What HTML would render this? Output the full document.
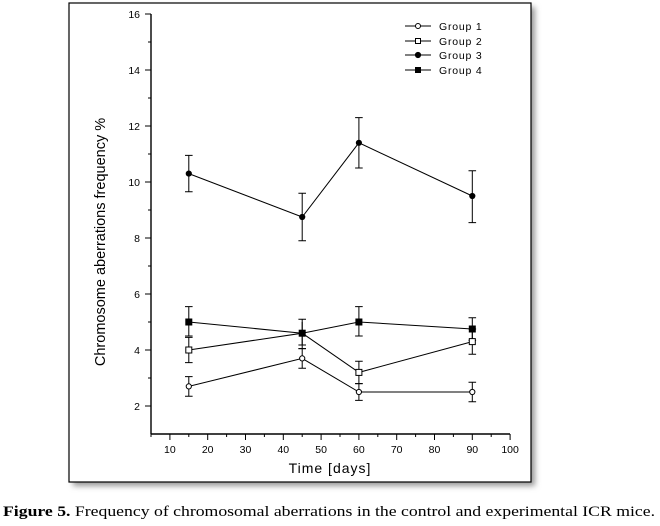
<!DOCTYPE html>
<html><head><meta charset="utf-8"><style>body{margin:0;background:#fff}svg{display:block}</style></head><body>
<svg width="660" height="526" viewBox="0 0 660 526" xmlns="http://www.w3.org/2000/svg">
<defs><filter id="sh" x="-5%" y="-5%" width="115%" height="115%"><feGaussianBlur stdDeviation="3"/></filter></defs>
<rect x="73" y="7" width="462" height="479" fill="#999" filter="url(#sh)"/>
<rect x="69" y="3" width="462" height="479" fill="#fff" stroke="#000" stroke-width="1.2"/>
<g stroke="#000" stroke-width="1" fill="none">
<line x1="151" y1="14" x2="151" y2="434" stroke-width="1.4"/>
<line x1="151" y1="434" x2="510" y2="434" stroke-width="1.4"/>
<path d="M145 14H151M145 70H151M145 126H151M145 182H151M145 238H151M145 294H151M145 350H151M145 406H151"/>
<path d="M148 42H151M148 98H151M148 154H151M148 210H151M148 266H151M148 322H151M148 378H151"/>
<path d="M169.9 434V440M207.7 434V440M245.5 434V440M283.3 434V440M321.1 434V440M358.9 434V440M396.7 434V440M434.5 434V440M472.3 434V440M510.1 434V440"/>
<path d="M151 434V437M188.8 434V437M226.6 434V437M264.4 434V437M302.2 434V437M340 434V437M377.8 434V437M415.6 434V437M453.4 434V437M491.2 434V437"/>
</g>
<g font-family="Liberation Sans, sans-serif" font-size="10.5" text-anchor="end" fill="#000">
<text x="140" y="18">16</text><text x="140" y="74">14</text><text x="140" y="130">12</text><text x="140" y="186">10</text><text x="140" y="242">8</text><text x="140" y="298">6</text><text x="140" y="354">4</text><text x="140" y="410">2</text>
</g>
<g font-family="Liberation Sans, sans-serif" font-size="10.5" text-anchor="middle" fill="#000">
<text x="169.9" y="453">10</text><text x="207.7" y="453">20</text><text x="245.5" y="453">30</text><text x="283.3" y="453">40</text><text x="321.1" y="453">50</text><text x="358.9" y="453">60</text><text x="396.7" y="453">70</text><text x="434.5" y="453">80</text><text x="472.3" y="453">90</text><text x="510.1" y="453">100</text>
</g>
<text x="330" y="473" font-family="Liberation Sans, sans-serif" font-size="14" text-anchor="middle" letter-spacing="1">Time [days]</text>
<text transform="translate(105,242) rotate(-90)" font-family="Liberation Sans, sans-serif" font-size="14.5" text-anchor="middle">Chromosome aberrations frequency  %</text>
<g stroke="#000" stroke-width="1" fill="none">
<path d="M188.8 396.2V376.6M185 396.2h7.6M185 376.6h7.6 M302.2 368.2V348.6M298.4 368.2h7.6M298.4 348.6h7.6 M358.9 400.4V383.6M355.1 400.4h7.6M355.1 383.6h7.6 M472.3 401.8V382.2M468.5 401.8h7.6M468.5 382.2h7.6"/>
<path d="M188.8 362.6V337.4M185 362.6h7.6M185 337.4h7.6 M358.9 383.6V361.2M355.1 383.6h7.6M355.1 361.2h7.6 M472.3 354.2V329M468.5 354.2h7.6M468.5 329h7.6 M302.2 345V322M298.4 345h7.6"/>
<path d="M188.8 191.8V155.4M185 191.8h7.6M185 155.4h7.6 M302.2 240.8V193.2M298.4 240.8h7.6M298.4 193.2h7.6 M358.9 168V117.6M355.1 168h7.6M355.1 117.6h7.6 M472.3 222.6V170.8M468.5 222.6h7.6M468.5 170.8h7.6"/>
<path d="M188.8 336V306.6M185 336h7.6M185 306.6h7.6 M302.2 348.6V319.2M298.4 348.6h7.6M298.4 319.2h7.6 M358.9 336V306.6M355.1 336h7.6M355.1 306.6h7.6 M472.3 340.2V317.8M468.5 340.2h7.6M468.5 317.8h7.6"/>
<polyline points="188.8,386.4 302.2,358.4 358.9,392 472.3,392"/>
<polyline points="188.8,350 302.2,333.2 358.9,372.4 472.3,341.6"/>
<polyline points="188.8,173.6 302.2,217 358.9,142.8 472.3,196"/>
<polyline points="188.8,322 302.2,333.2 358.9,322 472.3,329"/>
</g>
<g stroke="#000" stroke-width="1">
<g fill="#fff"><circle cx="188.8" cy="386.4" r="2.6"/><circle cx="302.2" cy="358.4" r="2.6"/><circle cx="358.9" cy="392" r="2.6"/><circle cx="472.3" cy="392" r="2.6"/></g>
<g fill="#fff"><rect x="185.8" y="347" width="6" height="6"/><rect x="355.9" y="369.4" width="6" height="6"/><rect x="469.3" y="338.6" width="6" height="6"/></g>
<g fill="#000"><circle cx="188.8" cy="173.6" r="2.6"/><circle cx="302.2" cy="217" r="2.6"/><circle cx="358.9" cy="142.8" r="2.6"/><circle cx="472.3" cy="196" r="2.6"/></g>
<g fill="#000"><rect x="185.8" y="319" width="6" height="6"/><rect x="299.2" y="330.2" width="6" height="6"/><rect x="355.9" y="319" width="6" height="6"/><rect x="469.3" y="326" width="6" height="6"/></g>
</g>
<g stroke="#000" stroke-width="1">
<path d="M405 26h26M405 41h26M405 55h26M405 70h26"/>
<circle cx="418" cy="26" r="2.5" fill="#fff"/>
<rect x="415.5" y="38.5" width="5" height="5" fill="#fff"/>
<circle cx="418" cy="55" r="2.6" fill="#000"/>
<rect x="415.5" y="67.5" width="5" height="5" fill="#000"/>
</g>
<g font-family="Liberation Sans, sans-serif" font-size="10.5" fill="#000" letter-spacing="0.8">
<text x="439" y="30">Group 1</text><text x="439" y="45">Group 2</text><text x="439" y="59">Group 3</text><text x="439" y="74">Group 4</text>
</g>
<text x="3" y="516" font-family="Liberation Serif, serif" font-size="15" textLength="652" lengthAdjust="spacingAndGlyphs"><tspan font-weight="bold">Figure 5.</tspan> Frequency of chromosomal aberrations in the control and experimental ICR mice.</text>
</svg>
</body></html>
